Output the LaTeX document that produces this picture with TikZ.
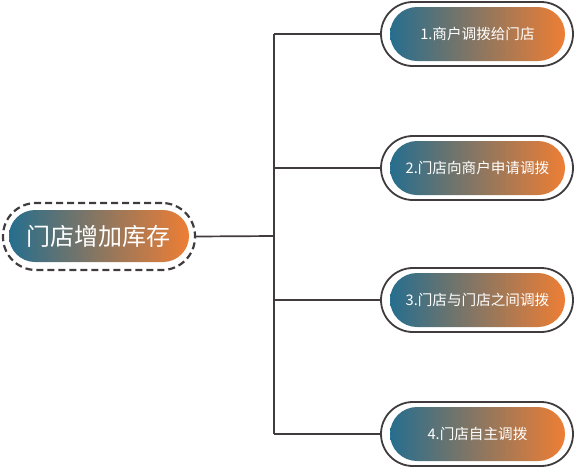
\documentclass[tikz,border=0pt]{standalone}
\usepackage{fontspec}
\setmainfont{Noto Sans CJK SC}
\usetikzlibrary{positioning,calc}
\definecolor{pillblue}{RGB}{38,110,142}
\definecolor{pillmid}{RGB}{178,122,128}
\definecolor{pillorange}{RGB}{238,126,52}
\definecolor{linegray}{RGB}{64,60,62}
\tikzset{
  rootring/.style={draw=linegray, line width=2.2pt, dash pattern=on 7pt off 4pt, minimum width=192pt, minimum height=67pt, rounded corners=33pt, inner sep=0pt},
  rootpill/.style={left color=pillblue, middle color=pillmid, right color=pillorange, minimum width=180pt, minimum height=52pt, rounded corners=26pt, text=white, font=\fontsize{24}{28}\selectfont, inner sep=0pt},
  ring/.style={draw=linegray, line width=1.8pt, minimum width=192pt, minimum height=64pt, rounded corners=32pt, inner sep=0pt},
  pill/.style={left color=pillblue, middle color=pillmid, right color=pillorange, minimum width=175pt, minimum height=54pt, rounded corners=27pt, text=white, font=\fontsize{14.6}{17}\selectfont, inner sep=0pt},
  branch/.style={draw=linegray, line width=1.7pt}
}
\begin{document}
\begin{tikzpicture}[x=1pt,y=-1pt]
  \useasboundingbox (0,0) rectangle (576,469);
  % root
  \node[rootring] (rootout) at (99,236.5) {};
  \node[rootpill] (root) at (99,236) {门店增加库存};
  % children
  \node[ring] (c1out) at (477,34) {};
  \node[pill] (c1) at (477.5,34) {1.商户调拨给门店};
  \node[ring] (c2out) at (477,168) {};
  \node[pill] (c2) at (477.5,168) {2.门店向商户申请调拨};
  \node[ring] (c3out) at (477,300) {};
  \node[pill] (c3) at (477.5,300) {3.门店与门店之间调拨};
  \node[ring] (c4out) at (477,434) {};
  \node[pill] (c4) at (477.5,434) {4.门店自主调拨};
  % trunk
  \coordinate (t0) at (274,236);
  \coordinate (t1) at (274,34);
  \coordinate (t2) at (274,168);
  \coordinate (t3) at (274,300);
  \coordinate (t4) at (274,434);
  \draw[branch] (rootout.east) -- (t0);
  \draw[branch] (t1) -- (t4);
  \draw[branch] (t1) -- (c1out.west);
  \draw[branch] (t2) -- (c2out.west);
  \draw[branch] (t3) -- (c3out.west);
  \draw[branch] (t4) -- (c4out.west);
\end{tikzpicture}
\end{document}
